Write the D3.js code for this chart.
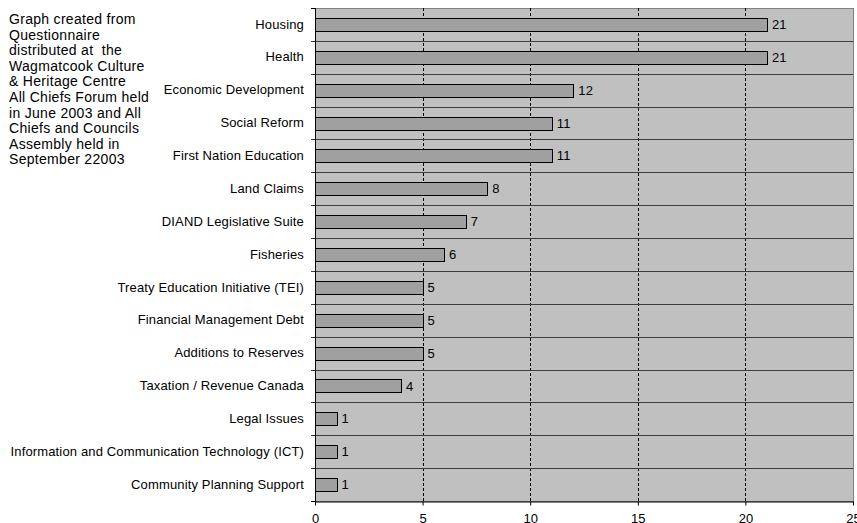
<!DOCTYPE html>
<html>
<head>
<meta charset="utf-8">
<script src="https://cdn.jsdelivr.net/npm/d3@7"></script>
<style>
  body { margin: 0; background: #fff; }
  svg text { font-family: "Liberation Sans", Arial, sans-serif; fill: #000; }
</style>
</head>
<body>
<div id="chart"></div>
<script>
// categories, top to bottom
var categories = [
    "Housing", "Health", "Economic Development", "Social Reform",
    "First Nation Education", "Land Claims", "DIAND Legislative Suite",
    "Fisheries", "Treaty Education Initiative (TEI)", "Financial Management Debt",
    "Additions to Reserves", "Taxation / Revenue Canada", "Legal Issues",
    "Information and Communication Technology (ICT)", "Community Planning Support"
];
var values = [21, 21, 12, 11, 11, 8, 7, 6, 5, 5, 5, 4, 1, 1, 1];
var xTicks = [0, 5, 10, 15, 20, 25];
var noteLines = [
    "Graph created from", "Questionnaire", "distributed at  the",
    "Wagmatcook Culture", "& Heritage Centre", "All Chiefs Forum held",
    "in June 2003 and All", "Chiefs and Councils", "Assembly held in",
    "September 22003"
];

var data = categories.map(function (c, i) { return { name: c, value: values[i] }; });

var W = 857, H = 523;
var margin = { top: 8, right: 4, bottom: 22, left: 315 },
    width = W - margin.left - margin.right,
    height = H - margin.top - margin.bottom;

var svg = d3.select("#chart")
    .append("svg")
    .attr("width", W)
    .attr("height", H);

// note text on the left
svg.append("text")
    .attr("x", 9)
    .attr("y", 24)
    .style("font-size", "14px")
    .style("letter-spacing", "0.3px")
    .style("white-space", "pre")
    .selectAll("tspan")
    .data(noteLines)
    .enter()
    .append("tspan")
    .attr("x", 9)
    .attr("dy", function (d, i) { return i === 0 ? 0 : 15.6; })
    .text(function (d) { return d; });

var g = svg.append("g")
    .attr("transform", "translate(" + margin.left + "," + margin.top + ")");

var x = d3.scaleLinear().domain([0, 25]).range([0, width]);
var y = d3.scaleBand().domain(categories).range([0, height]).padding(0);

// plot background
g.append("rect")
    .attr("x", 0).attr("y", 0)
    .attr("width", width).attr("height", height)
    .attr("fill", "#c0c0c0")
    .attr("stroke", "#808080")
    .attr("stroke-width", 1)
    .attr("shape-rendering", "crispEdges");

// vertical dotted gridlines
g.append("g")
    .selectAll("line")
    .data(xTicks.filter(function (d) { return d > 0 && d < 25; }))
    .enter()
    .append("line")
    .attr("x1", function (d) { return Math.round(x(d)) + 0.5; })
    .attr("x2", function (d) { return Math.round(x(d)) + 0.5; })
    .attr("y1", 0)
    .attr("y2", height)
    .attr("stroke", "#000")
    .attr("stroke-dasharray", "3,2")
    .attr("shape-rendering", "crispEdges");

// category separators (with ticks to the left)
var seps = d3.range(1, categories.length).map(function (i) { return y.step() * i; });
g.append("g")
    .selectAll("line")
    .data(seps)
    .enter()
    .append("line")
    .attr("x1", -4)
    .attr("x2", width)
    .attr("y1", function (d) { return Math.round(d) + 0.5; })
    .attr("y2", function (d) { return Math.round(d) + 0.5; })
    .attr("stroke", "#3c3c3c")
    .attr("shape-rendering", "crispEdges");

// bars
var barH = Math.round(y.bandwidth() * 0.4);
g.append("g")
    .selectAll("rect")
    .data(data)
    .enter()
    .append("rect")
    .attr("x", 0)
    .attr("y", function (d) { return Math.round(y(d.name) + (y.bandwidth() - barH) / 2) + 0.5; })
    .attr("width", function (d) { return Math.round(x(d.value)); })
    .attr("height", barH)
    .attr("fill", "#a0a0a0")
    .attr("stroke", "#000")
    .attr("stroke-width", 1)
    .attr("shape-rendering", "crispEdges");

// value labels
g.append("g")
    .selectAll("text")
    .data(data)
    .enter()
    .append("text")
    .attr("x", function (d) { return x(d.value) + 5; })
    .attr("y", function (d) { return y(d.name) + y.bandwidth() / 2; })
    .attr("dy", "0.35em")
    .style("font-size", "13px")
    .style("letter-spacing", "0.2px")
    .text(function (d) { return d.value; });

// y axis
var yAxis = g.append("g")
    .call(d3.axisLeft(y).tickSize(0).tickPadding(11));
yAxis.select(".domain").remove();
yAxis.selectAll("text")
    .style("font-size", "13px")
    .style("letter-spacing", "0.15px")
    .style("font-family", "'Liberation Sans', Arial, sans-serif");

// top / bottom ticks on the left axis
g.append("g")
    .selectAll("line")
    .data([0, height])
    .enter()
    .append("line")
    .attr("x1", -4).attr("x2", 0)
    .attr("y1", function (d) { return Math.round(d) + 0.5; })
    .attr("y2", function (d) { return Math.round(d) + 0.5; })
    .attr("stroke", "#000")
    .attr("shape-rendering", "crispEdges");

// left axis line
g.append("line")
    .attr("x1", 0.5).attr("x2", 0.5)
    .attr("y1", 0).attr("y2", height + 4)
    .attr("stroke", "#000")
    .attr("shape-rendering", "crispEdges");

// x axis
var xAxis = g.append("g")
    .attr("transform", "translate(0," + (Math.round(height) + 0.5) + ")")
    .call(d3.axisBottom(x).tickValues(xTicks).tickSize(4).tickPadding(8).tickSizeOuter(0));
xAxis.select(".domain").attr("stroke", "#000");
xAxis.selectAll("text")
    .style("font-size", "13px")
    .style("font-family", "'Liberation Sans', Arial, sans-serif");
</script>
</body>
</html>
